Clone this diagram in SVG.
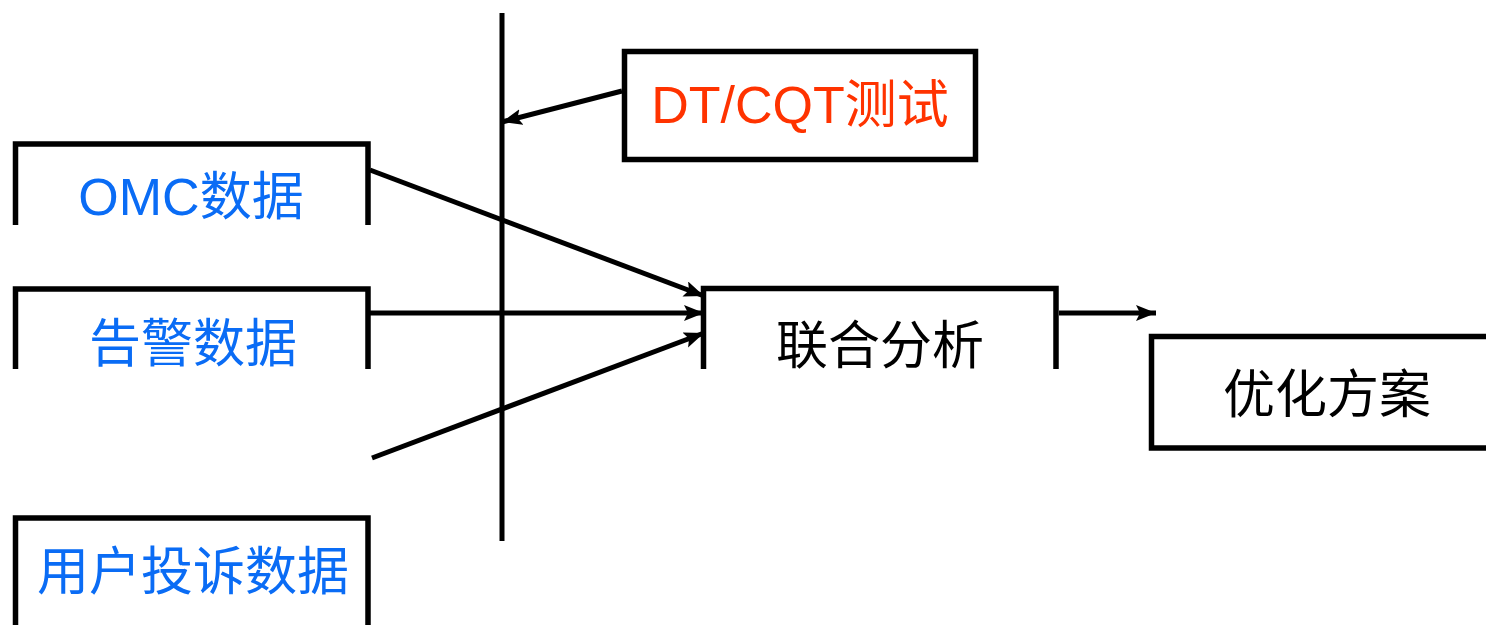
<svg xmlns="http://www.w3.org/2000/svg" width="1486" height="625" viewBox="0 0 1486 625">
<style>
.box{fill:none;stroke:#000;stroke-width:5.5}
.ln{fill:none;stroke:#000;stroke-width:5}
.t{font-family:"Liberation Sans","Noto Sans CJK SC",sans-serif;font-size:52px;text-anchor:middle}
.blue{fill:#0a6cf5}
.red{fill:#ff3300}
.blk{fill:#000}
</style>
<defs>
<marker id="ah" markerUnits="userSpaceOnUse" markerWidth="24" markerHeight="20" refX="20" refY="8" orient="auto">
<path d="M0,0 L20,8 L0,16 L4,8 Z" fill="#000"/>
</marker>
</defs>
<rect width="1486" height="625" fill="#fff"/>
<g id="connectors">
<line class="ln" x1="502" y1="13" x2="502" y2="541"/>
<line class="ln" x1="622" y1="91" x2="502" y2="122" marker-end="url(#ah)"/>
<line class="ln" x1="370" y1="170" x2="704" y2="296" marker-end="url(#ah)"/>
<line class="ln" x1="370" y1="313" x2="704" y2="313" marker-end="url(#ah)"/>
<line class="ln" x1="372" y1="458" x2="704" y2="333" marker-end="url(#ah)"/>
<line class="ln" x1="1059" y1="313" x2="1156" y2="313" marker-end="url(#ah)"/>
</g>
<g id="omc">
<path class="box" d="M15.5,225 V144 H368 V225"/>
<text class="t blue" x="191" y="215">OMC数据</text>
</g>
<g id="alarm">
<path class="box" d="M15.5,369 V289 H368 V369"/>
<text class="t blue" x="193" y="362">告警数据</text>
</g>
<g id="complaint">
<path class="box" d="M15.5,625 V518 H368 V625"/>
<text class="t blue" x="193" y="590">用户投诉数据</text>
</g>
<g id="dtcqt">
<rect class="box" x="624.5" y="51.5" width="351" height="108"/>
<text class="t red" x="800" y="123">DT/CQT测试</text>
</g>
<g id="joint">
<path class="box" d="M703.5,369 V288.5 H1056 V369"/>
<text class="t blk" x="880" y="364">联合分析</text>
</g>
<g id="plan">
<path class="box" d="M1490,336.5 H1151.5 V448 H1490"/>
<text class="t blk" x="1327" y="413">优化方案</text>
</g>
</svg>
